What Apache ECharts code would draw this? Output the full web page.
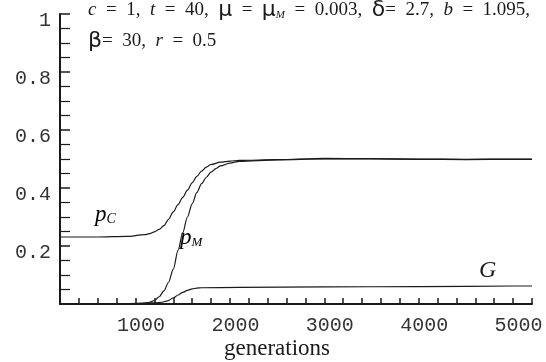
<!DOCTYPE html>
<html>
<head>
<meta charset="utf-8">
<script src="https://cdn.jsdelivr.net/npm/echarts@6/dist/echarts.min.js"></script>
<style>
  html, body { margin: 0; padding: 0; background: #fff; }
  #chart { width: 546px; height: 362px; }
</style>
</head>
<body>
<div id="chart"></div>
<script>
// generations (x) and fractions (y)
const pcGen = [200, 600, 900, 1100, 1150, 1200, 1250, 1300, 1350, 1400, 1450, 1500, 1550, 1600, 1650, 1700, 1750, 1800, 1900, 2000, 2100, 2500, 3000, 3500, 4000, 4500, 5000, 5200];
const pcVal = [0.231, 0.231, 0.233, 0.239, 0.243, 0.249, 0.257, 0.27, 0.292, 0.318, 0.343, 0.368, 0.393, 0.418, 0.44, 0.458, 0.472, 0.481, 0.489, 0.493, 0.495, 0.498, 0.502, 0.501, 0.5, 0.499, 0.5, 0.5];

const pmGen = [880, 1000, 1100, 1150, 1200, 1250, 1300, 1350, 1400, 1450, 1500, 1550, 1600, 1650, 1700, 1750, 1800, 1850, 1900, 2000, 2100, 2500, 3000, 3500, 4000, 4500, 5000, 5200];
const pmVal = [0, 0.001, 0.003, 0.006, 0.012, 0.025, 0.045, 0.075, 0.12, 0.185, 0.245, 0.3, 0.345, 0.385, 0.415, 0.437, 0.455, 0.467, 0.476, 0.486, 0.492, 0.497, 0.5, 0.5, 0.499, 0.498, 0.499, 0.499];

const gGen = [880, 1000, 1200, 1280, 1340, 1400, 1450, 1500, 1550, 1600, 1650, 1700, 2100, 3000, 4000, 5000, 5200];
const gVal = [0, 0.002, 0.004, 0.006, 0.011, 0.021, 0.031, 0.04, 0.047, 0.052, 0.055, 0.056, 0.057, 0.059, 0.06, 0.062, 0.062];

const paramLine1 = '{i|c} = 1, {i|t} = 40, {g|μ} = {g|μ}{s|M} = 0.003, {g|δ}= 2.7, {i|b} = 1.095,';
const paramLine2 = '{g|β}= 30, {i|r} = 0.5';

const zip = (xs, ys) => xs.map((x, i) => [x, ys[i]]);
const wide = s => s.replace(/ /g, '\u2002');

const chart = echarts.init(document.getElementById('chart'));

const lineStyle = { color: '#1a1a1a', width: 1.2 };
const mkSeries = (name, data) => ({
  name,
  type: 'line',
  data,
  smooth: 0.3,
  smoothMonotone: 'x',
  showSymbol: false,
  lineStyle,
  silent: true
});

const serif = 'Liberation Serif';
const ink = '#1a1a1a';
const paramRich = {
  i: { fontFamily: serif, fontStyle: 'italic', fontSize: 19, color: ink },
  g: { fontFamily: 'DejaVu Sans', fontSize: 22, color: ink },
  s: { fontFamily: serif, fontStyle: 'italic', fontSize: 11, color: ink, verticalAlign: 'bottom' }
};

chart.setOption({
  animation: false,
  grid: { left: 60, right: 14, top: 14, bottom: 58 },
  xAxis: {
    type: 'value',
    min: 200,
    max: 5200,
    interval: 200,
    axisLine: { show: true, lineStyle: { color: ink, width: 2 } },
    axisTick: { inside: true, length: 6, lineStyle: { color: ink, width: 1.5 } },
    axisLabel: {
      interval: 0,
      margin: 12,
      verticalAlign: 'top',
      padding: [0, 0, 0, 11],
      fontFamily: 'Liberation Mono',
      fontSize: 20,
      color: '#333',
      formatter: v => (v % 1000 === 0 ? String(v) : '')
    },
    splitLine: { show: false }
  },
  yAxis: {
    type: 'value',
    min: 0,
    max: 1,
    interval: 0.2,
    axisLine: { show: true, lineStyle: { color: ink, width: 2 } },
    axisTick: { inside: true, length: 10, lineStyle: { color: ink, width: 1.5 } },
    minorTick: { show: true, splitNumber: 4, length: 10, lineStyle: { color: ink, width: 1.2 } },
    axisLabel: {
      margin: 9,
      verticalAlign: 'top',
      lineHeight: 14,
      fontFamily: 'Liberation Mono',
      fontSize: 20,
      color: '#333',
      formatter: v => (v === 0 ? '' : v === 1 ? '1' : v.toFixed(1))
    },
    splitLine: { show: false }
  },
  series: [
    mkSeries('pC', zip(pcGen, pcVal)),
    mkSeries('pM', zip(pmGen, pmVal)),
    mkSeries('G', zip(gGen, gVal))
  ],
  graphic: [
    {
      type: 'text', left: 88, top: -1,
      style: { text: wide(paramLine1), font: '19px "Liberation Serif"', fill: ink, rich: paramRich }
    },
    {
      type: 'text', left: 88, top: 30,
      style: { text: wide(paramLine2), font: '19px "Liberation Serif"', fill: ink, rich: paramRich }
    },
    {
      type: 'text', left: 95, top: 203,
      style: {
        text: '{p|p}{s|C}',
        rich: {
          p: { fontFamily: serif, fontStyle: 'italic', fontSize: 23, color: ink },
          s: { fontFamily: serif, fontStyle: 'italic', fontSize: 14, color: ink, verticalAlign: 'bottom' }
        }
      }
    },
    {
      type: 'text', left: 180, top: 226,
      style: {
        text: '{p|p}{s|M}',
        rich: {
          p: { fontFamily: serif, fontStyle: 'italic', fontSize: 23, color: ink },
          s: { fontFamily: serif, fontStyle: 'italic', fontSize: 13, color: ink, verticalAlign: 'bottom' }
        }
      }
    },
    {
      type: 'text', left: 479, top: 259,
      style: { text: 'G', font: 'italic 24px "Liberation Serif"', fill: ink }
    },
    {
      type: 'text', left: 224, top: 337,
      style: { text: 'generations', font: '23px "Liberation Serif"', fill: ink }
    }
  ]
});
</script>
</body>
</html>
